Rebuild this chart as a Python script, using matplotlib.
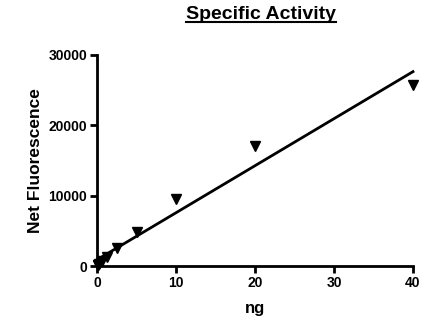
import matplotlib.pyplot as plt
import numpy as np

# readings
ng = [0.078, 0.156, 0.3125, 0.625, 1.25, 2.5, 5, 10, 20, 40]
fluor = [80, 170, 350, 700, 1300, 2550, 4850, 9550, 17050, 25700]

plt.rcParams['font.family'] = ['Liberation Sans', 'DejaVu Sans']
plt.rcParams['font.weight'] = 'bold'

fig = plt.figure(figsize=(4.46, 3.25), dpi=100)
ax = fig.add_axes([0.2175, 0.1815, 0.7085, 0.6493])

# linear fit
slope, icept = np.polyfit(ng, fluor, 1)
xs = np.array([0, 40])
ax.plot(xs, slope * xs + icept, color='black', lw=2, clip_on=False)
ax.plot(ng, fluor, 'v', color='black', ms=7, clip_on=False)

ax.set_xlim(0, 40)
ax.set_ylim(0, 30000)
ax.set_xticks([0, 10, 20, 30, 40])
ax.set_yticks([0, 10000, 20000, 30000])
for s in ['top', 'right']:
    ax.spines[s].set_visible(False)
for s in ['left', 'bottom']:
    ax.spines[s].set_linewidth(2)
ax.tick_params(width=2, length=5, labelsize=10, pad=2)
for lab in ax.get_xticklabels() + ax.get_yticklabels():
    lab.set_fontweight('bold')
ax.set_xlabel('ng', fontsize=12, fontweight='bold', labelpad=8)
ax.set_ylabel('Net Fluorescence', fontsize=12.5, fontweight='bold', labelpad=4)

title = fig.text(0.586, 0.955, 'Specific Activity', ha='center', va='center',
                 fontsize=14, fontweight='bold')
fig.canvas.draw()
bb = title.get_window_extent().transformed(fig.transFigure.inverted())
fig.add_artist(plt.Line2D([bb.x0, bb.x1], [bb.y0 + 0.002, bb.y0 + 0.002],
                          transform=fig.transFigure, color='black', lw=1.5))

fig.savefig('out.png', dpi=100)
